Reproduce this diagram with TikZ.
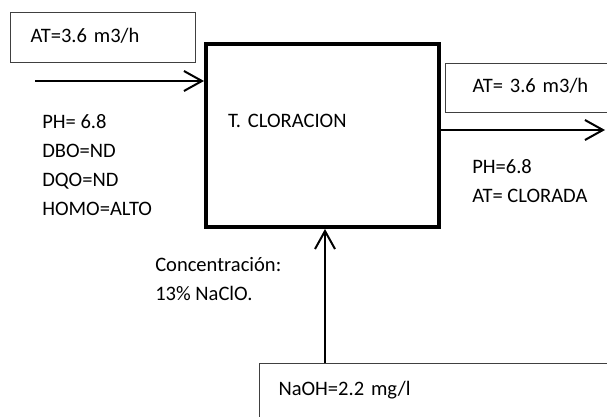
\documentclass[tikz,border=0pt]{standalone}
\usepackage{fontspec}
\setmainfont{Carlito}
\usetikzlibrary{positioning,arrows.meta}
\tikzset{
  txt/.style={font=\fontsize{15.4}{21.5}\selectfont,inner sep=0pt,anchor=base west},
  val/.style={draw=black!75,line width=0.75pt,font=\fontsize{15.4}{21.5}\selectfont,align=left,anchor=north west,inner ysep=0pt},
  tank/.style={draw=black,line width=3pt,font=\fontsize{15.4}{21.5}\selectfont,align=left,anchor=north west,inner ysep=0pt},
  arr/.style={-{Straight Barb[length=13.5pt,width=15pt]},line width=1.5pt},
}
\begin{document}
\begin{tikzpicture}[x=0.75pt,y=-0.75pt]
  \useasboundingbox (0,0) rectangle (607,417);
  \clip (0,0) rectangle (607,417);
  % tanque de cloracion
  \node[tank,inner xsep=16.5pt,text width=141.375pt,text height=62.6pt,text depth=74.25pt] (tank) at (204,42.5) {T. CLORACION};
  % caudales
  \node[val,inner xsep=15pt,text width=108.75pt,text height=22.5pt,text depth=15pt] (qin) at (10,12) {AT=3.6 m3/h};
  \node[val,inner xsep=20.25pt,text width=90.75pt,text height=21.75pt,text depth=15pt] (qout) at (445,63) {AT= 3.6 m3/h};
  \node[val,inner xsep=14.25pt,text width=242.25pt,text height=24pt,text depth=30pt] (sosa) at (259,363) {NaOH=2.2 mg/l};
  % entrada
  \node[txt] (phin) at (42,129) {PH= 6.8};
  \node[txt] (dbo) at ([yshift=-21.5pt]phin.base west) {DBO=ND};
  \node[txt] (dqo) at ([yshift=-21.5pt]dbo.base west) {DQO=ND};
  \node[txt] (homo) at ([yshift=-21.5pt]dqo.base west) {HOMO=ALTO};
  % salida
  \node[txt] (phout) at (472,174) {PH=6.8};
  \node[txt] (clorada) at ([yshift=-21.5pt]phout.base west) {AT= CLORADA};
  % dosificacion
  \node[txt] (conc) at (155,272) {Concentración:};
  \node[txt] (naclo) at ([yshift=-21pt]conc.base west) {13\% NaClO.};
  \coordinate (inlet) at (35,81);
  \coordinate (outlet) at (605,130);
  \coordinate (dose) at (325,0);
  \draw[arr] (inlet) -- (inlet -| tank.west);
  \draw[arr] (tank.east |- outlet) -- (outlet);
  \draw[arr] (sosa.north -| dose) -- (tank.south -| dose);
\end{tikzpicture}
\end{document}
